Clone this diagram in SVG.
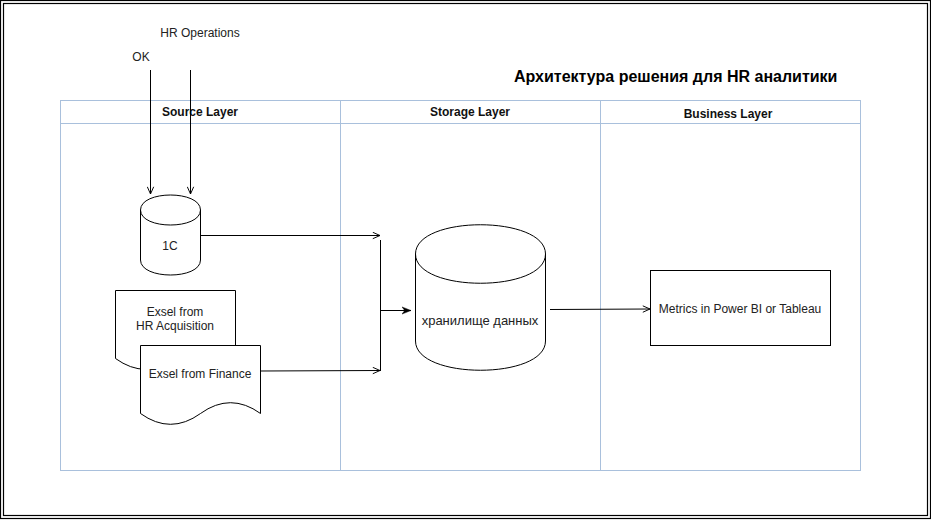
<svg xmlns="http://www.w3.org/2000/svg" width="931" height="521" viewBox="0 0 931 521">
  <style>
    .lbl { font-family: "Liberation Sans", Arial, sans-serif; font-size: 12px; fill: #222; text-anchor: middle; }
    .big { font-size: 13px; }
    .hdr { font-family: "Liberation Sans", Arial, sans-serif; font-size: 12px; font-weight: bold; fill: #111; text-anchor: middle; }
    .title { font-family: "Liberation Sans", Arial, sans-serif; font-size: 16px; font-weight: bold; fill: #000; }
    .lane { fill: none; stroke: #a9c0dc; stroke-width: 1; }
    .shape { fill: #fff; stroke: #000; stroke-width: 1; }
    .edge { fill: none; stroke: #000; stroke-width: 1; }
  </style>
  <defs>
    <marker id="open" viewBox="0 0 10 10" refX="10" refY="5" markerWidth="8" markerHeight="8" orient="auto" markerUnits="userSpaceOnUse">
      <path d="M1,1 L10,5 L1,9" fill="none" stroke="#000" stroke-width="1.2"/>
    </marker>
    <marker id="block" viewBox="0 0 10 10" refX="10" refY="5" markerWidth="9" markerHeight="9" orient="auto" markerUnits="userSpaceOnUse">
      <path d="M0,1 L10,5 L0,9 L3,5 z" fill="#000" stroke="#000" stroke-width="0.5"/>
    </marker>
  </defs>

  <rect x="0" y="0" width="931" height="521" fill="#fff"/>
  <!-- double frame -->
  <rect x="0.5" y="0.5" width="930" height="518" fill="none" stroke="#000" stroke-width="1.2"/>
  <rect x="3.5" y="3.5" width="924" height="512" fill="none" stroke="#000" stroke-width="1.2"/>

  <g id="title">
    <text class="title" x="514" y="82">Архитектура решения для HR аналитики</text>
  </g>

  <g id="lanes">
    <rect class="lane" x="60.5" y="100.5" width="800" height="370"/>
    <line class="lane" x1="60.5" y1="123.5" x2="860.5" y2="123.5"/>
    <line class="lane" x1="340.5" y1="100.5" x2="340.5" y2="470.5"/>
    <line class="lane" x1="600.5" y1="100.5" x2="600.5" y2="470.5"/>
    <text class="hdr" x="200" y="116">Source Layer</text>
    <text class="hdr" x="470" y="116">Storage Layer</text>
    <text class="hdr" x="728" y="118">Business Layer</text>
  </g>

  <g id="label-hr-operations">
    <text class="lbl" x="200" y="37">HR Operations</text>
  </g>
  <g id="label-ok">
    <text class="lbl" x="141" y="61">OK</text>
  </g>

  <g id="node-1c">
    <path class="shape" d="M140.5,210 C140.5,190 200.5,190 200.5,210 L200.5,260 C200.5,280 140.5,280 140.5,260 Z"/>
    <path class="edge" d="M140.5,210 C140.5,230 200.5,230 200.5,210"/>
    <text class="lbl" x="170" y="250">1C</text>
  </g>

  <g id="node-hr-acquisition">
    <path class="shape" d="M115.5,290.5 L235.5,290.5 L235.5,358.5 Q205.5,336.9 175.5,358.5 Q145.5,380.1 115.5,358.5 Z"/>
    <text class="lbl" x="175" y="316">Exsel from</text>
    <text class="lbl" x="175" y="330">HR Acquisition</text>
  </g>

  <g id="node-finance">
    <path class="shape" d="M140.5,345.5 L260.5,345.5 L260.5,413.5 Q230.5,391.9 200.5,413.5 Q170.5,435.1 140.5,413.5 Z"/>
    <text class="lbl" x="200" y="378">Exsel from Finance</text>
  </g>

  <g id="node-storage">
    <path class="shape" d="M415.5,254 C415.5,215 545.5,215 545.5,254 L545.5,341 C545.5,380 415.5,380 415.5,341 Z"/>
    <path class="edge" d="M415.5,254 C415.5,293 545.5,293 545.5,254"/>
    <text class="lbl big" x="480" y="325">хранилище данных</text>
  </g>

  <g id="node-metrics">
    <rect class="shape" x="650.5" y="270.5" width="180" height="75"/>
    <text class="lbl" x="740" y="313">Metrics in Power BI or Tableau</text>
  </g>

  <g id="connectors">
    <line class="edge" x1="150.5" y1="70" x2="150.5" y2="194" marker-end="url(#open)"/>
    <line class="edge" x1="190.5" y1="70" x2="190.5" y2="194" marker-end="url(#open)"/>
    <line class="edge" x1="200.5" y1="235.5" x2="380" y2="235.5" marker-end="url(#open)"/>
    <line class="edge" x1="260.5" y1="371" x2="380" y2="370.5" marker-end="url(#open)"/>
    <line class="edge" x1="380.5" y1="240" x2="380.5" y2="371"/>
    <line class="edge" x1="380.5" y1="310.5" x2="411" y2="310.5" marker-end="url(#block)"/>
    <line class="edge" x1="550" y1="309.5" x2="650" y2="309" marker-end="url(#open)"/>
  </g>
</svg>
